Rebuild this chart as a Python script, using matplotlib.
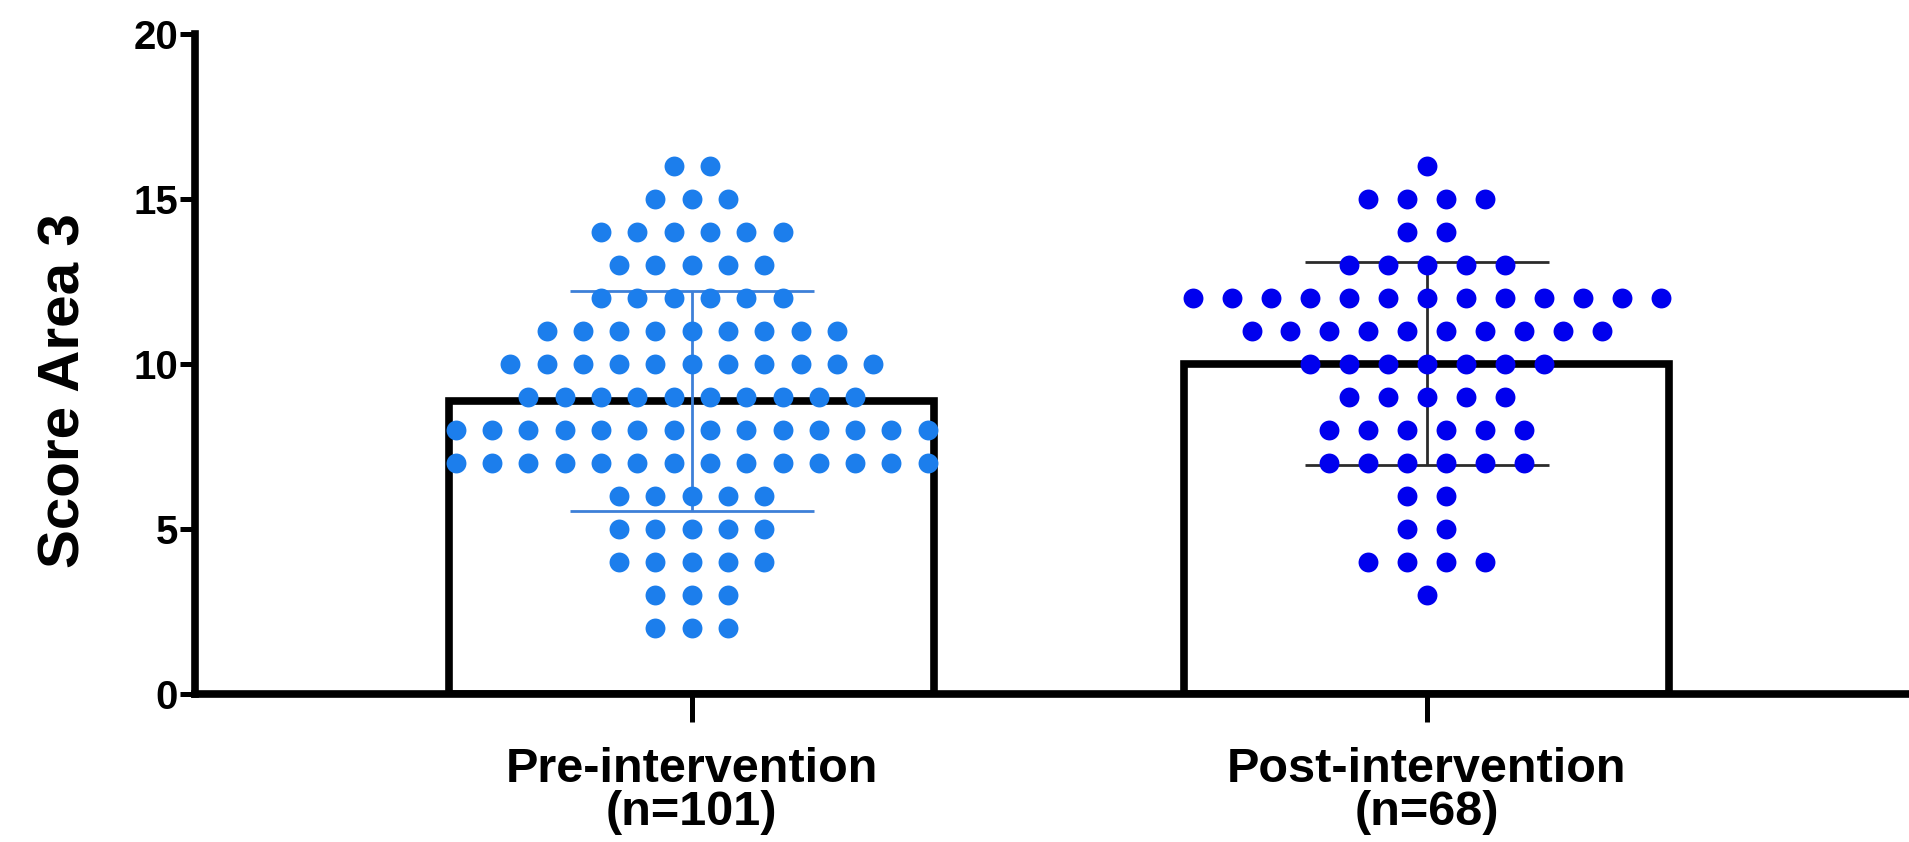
import numpy as np
import matplotlib
matplotlib.use("Agg")
import matplotlib.pyplot as plt

plt.rcParams['font.family'] = ['Liberation Sans', 'DejaVu Sans']
plt.rcParams['font.weight'] = 'bold'

# score levels and how many subjects sit at each level
score_levels = [2, 3, 4, 5, 6, 7, 8, 9, 10, 11, 12, 13, 14, 15, 16]
pre_counts = [3, 3, 5, 5, 5, 14, 14, 10, 11, 9, 6, 5, 6, 3, 2]
post_counts = [0, 1, 4, 2, 2, 6, 6, 5, 7, 10, 13, 5, 2, 4, 1]

group_labels = ['Pre-intervention\n(n=101)', 'Post-intervention\n(n=68)']
dot_colors = ['#1c7eec', '#0000ee']
err_colors = ['#3d80d8', '#2b2b2b']
dot_gap = [0.0494, 0.053]

fig = plt.figure(figsize=(19.09, 8.42), dpi=100)
ax = fig.add_axes([0.1021, 0.1758, 0.8979, 0.7838])

for i, counts in enumerate([pre_counts, post_counts]):
    vals = np.repeat(score_levels, counts)
    mean = vals.mean()
    sd = vals.std(ddof=1)

    ax.bar(i, mean, width=0.66, color='white', edgecolor='black', linewidth=5.5, zorder=1)
    ax.errorbar(i, mean, yerr=sd, color=err_colors[i], capsize=88,
                elinewidth=2.0, capthick=2.0, fmt='none', zorder=2)

    xs, ys = [], []
    for lvl, c in zip(score_levels, counts):
        offs = (np.arange(c) - (c - 1) / 2) * dot_gap[i]
        xs.extend(i + offs)
        ys.extend([lvl] * c)
    ax.scatter(xs, ys, s=205, color=dot_colors[i], linewidths=0, zorder=3, clip_on=False)

ax.set_xlim(-0.676, 1.656)
ax.set_ylim(0, 20)
ax.set_yticks([0, 5, 10, 15, 20])
ax.set_xticks([0, 1])
ax.set_xticklabels(group_labels, fontsize=35, fontweight='bold', linespacing=0.95)
ax.tick_params(axis='y', labelsize=29, length=11, width=3.6, pad=1)
ax.tick_params(axis='x', length=20, width=3.6, pad=18)

for s in ['top', 'right']:
    ax.spines[s].set_visible(False)
ax.spines['left'].set_linewidth(5.5)
ax.spines['bottom'].set_linewidth(5.5)
ax.spines['left'].set_bounds(0, 20)

ax.set_ylabel('Score Area 3', fontsize=42, fontweight='bold', va='center')
ax.yaxis.set_label_coords(-0.076, 0.459)

fig.savefig('out.png', dpi=100)
